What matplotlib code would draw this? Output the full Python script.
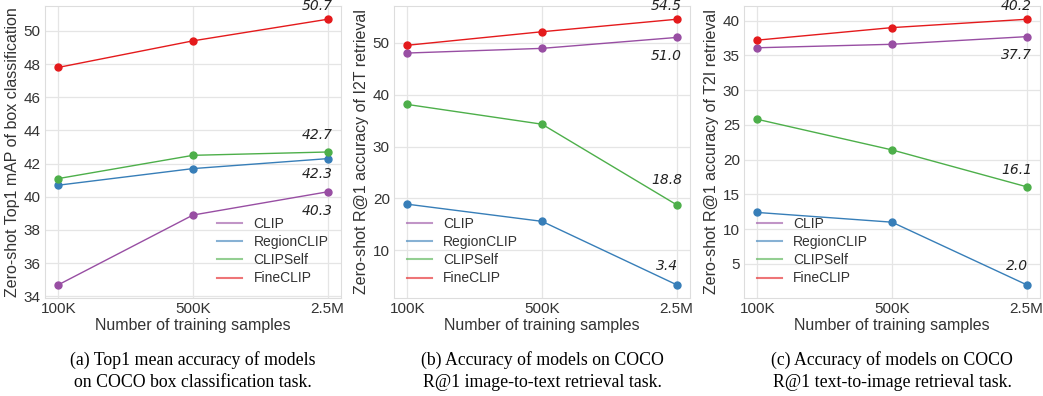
import numpy as np
import matplotlib.pyplot as plt

# x-axis categories
samples = ['100K', '500K', '2.5M']
models = ['CLIP', 'RegionCLIP', 'CLIPSelf', 'FineCLIP']
colors = ['#984ea3', '#377eb8', '#4daf4a', '#e41a1c']

# (a) box classification top1 mAP
box_clip = [34.7, 38.9, 40.3]
box_region = [40.7, 41.7, 42.3]
box_self = [41.1, 42.5, 42.7]
box_fine = [47.8, 49.4, 50.7]

# (b) I2T retrieval R@1
i2t_clip = [48.0, 48.9, 51.0]
i2t_region = [18.9, 15.6, 3.4]
i2t_self = [38.1, 34.3, 18.8]
i2t_fine = [49.5, 52.1, 54.5]

# (c) T2I retrieval R@1
t2i_clip = [36.1, 36.6, 37.7]
t2i_region = [12.4, 11.0, 2.0]
t2i_self = [25.8, 21.4, 16.1]
t2i_fine = [37.2, 39.0, 40.2]

ylabels = ['Zero-shot Top1 mAP of box classification',
           'Zero-shot R@1 accuracy of I2T retrieval',
           'Zero-shot R@1 accuracy of T2I retrieval']
captions = ['(a) Top1 mean accuracy of models\non COCO box classification task.',
            '(b) Accuracy of models on COCO\nR@1 image-to-text retrieval task.',
            '(c) Accuracy of models on COCO\nR@1 text-to-image retrieval task.']

panels = [
    [box_clip, box_region, box_self, box_fine],
    [i2t_clip, i2t_region, i2t_self, i2t_fine],
    [t2i_clip, t2i_region, t2i_self, t2i_fine],
]
# end-value labels: series index -> vertical pixel offset (+ above, - below)
labels = [
    {3: 6, 2: 10, 1: -8, 0: -12},
    {3: 6, 0: -12, 2: 18, 1: 12},
    {3: 6, 0: -11, 2: 10, 1: 12},
]
legend_loc = ['lower right', 'lower left', 'lower left']

plt.rcParams['font.family'] = ['Liberation Sans', 'DejaVu Sans']

fig = plt.figure(figsize=(10.43, 3.96), dpi=100)
lefts = [45, 394, 744]
x = np.arange(len(samples))

for i, series in enumerate(panels):
    ax = fig.add_axes([lefts[i] / 1043, 1 - 298 / 396, 296 / 1043, 292 / 396])
    ax.set_axisbelow(True)
    ax.grid(True, color='#e5e5e5', linewidth=0.9)
    for s in ax.spines.values():
        s.set_color('#dddddd')
    for k, vals in enumerate(series):
        ax.plot(x, vals, '-o', color=colors[k], linewidth=1.0, markersize=5,
                label=models[k])
    for k, dy in labels[i].items():
        v = series[k][-1]
        ax.annotate(f'{v:.1f}', (x[-1], v), xytext=(-10, dy),
                    textcoords='offset pixels', ha='center',
                    va='bottom' if dy > 0 else 'top',
                    fontsize=10, style='italic', family='DejaVu Sans',
                    color='#222222')
    ax.set_xticks(x)
    ax.set_xticklabels(samples)
    ax.tick_params(labelsize=11, colors='#333333', length=0, pad=3)
    ax.set_xlabel('Number of training samples', fontsize=11.5, color='#333333', labelpad=1)
    ax.set_ylabel(ylabels[i], fontsize=11.5, color='#333333', labelpad=3)
    leg = ax.legend(loc=legend_loc[i], frameon=False, fontsize=10,
                    handlelength=1.8, handletextpad=0.85, labelspacing=0.3,
                    borderaxespad=0.4, borderpad=0.5)
    for h in leg.get_lines():
        h.set_alpha(0.6)
        h.set_marker('')
        h.set_linewidth(1.5)
    for t in leg.get_texts():
        t.set_color('#333333')
    cx = (lefts[i] + 148) / 1043
    fig.text(cx, 1 - 371 / 396, captions[i], ha='center', va='center',
             fontsize=12.8, family='Liberation Serif', linespacing=1.4)

fig.savefig('out.png', dpi=100)
